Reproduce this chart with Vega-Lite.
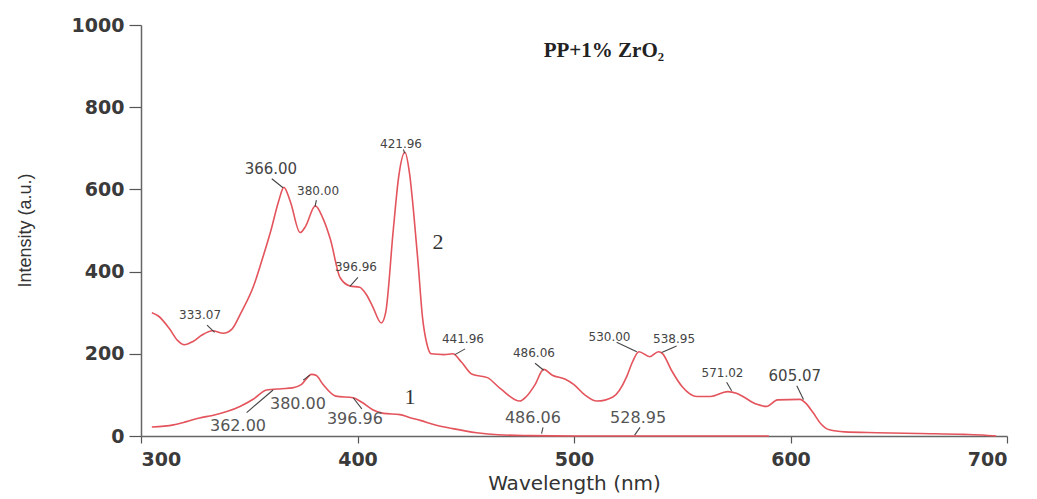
{
  "$schema": "https://vega.github.io/schema/vega-lite/v6.json",
  "width": 866,
  "height": 411,
  "autosize": "none",
  "padding": {"left": 141, "top": 25, "right": 30, "bottom": 63},
  "background": "white",
  "config": {"view": {"stroke": null}},
  "datasets": {
    "curves": [
      {"wl": 305, "intensity": 300, "curve": "2"},
      {"wl": 308, "intensity": 292, "curve": "2"},
      {"wl": 313, "intensity": 262, "curve": "2"},
      {"wl": 317, "intensity": 232, "curve": "2"},
      {"wl": 320, "intensity": 222, "curve": "2"},
      {"wl": 324, "intensity": 230, "curve": "2"},
      {"wl": 328, "intensity": 245, "curve": "2"},
      {"wl": 333, "intensity": 256, "curve": "2"},
      {"wl": 338, "intensity": 250, "curve": "2"},
      {"wl": 342, "intensity": 260, "curve": "2"},
      {"wl": 346, "intensity": 298, "curve": "2"},
      {"wl": 352, "intensity": 365, "curve": "2"},
      {"wl": 356, "intensity": 430, "curve": "2"},
      {"wl": 360, "intensity": 500, "curve": "2"},
      {"wl": 363.5, "intensity": 570, "curve": "2"},
      {"wl": 366, "intensity": 605, "curve": "2"},
      {"wl": 369, "intensity": 570, "curve": "2"},
      {"wl": 373.5, "intensity": 495, "curve": "2"},
      {"wl": 376, "intensity": 510, "curve": "2"},
      {"wl": 380.5, "intensity": 560, "curve": "2"},
      {"wl": 384, "intensity": 530, "curve": "2"},
      {"wl": 387.5, "intensity": 478, "curve": "2"},
      {"wl": 392, "intensity": 385, "curve": "2"},
      {"wl": 396.5, "intensity": 365, "curve": "2"},
      {"wl": 401, "intensity": 362, "curve": "2"},
      {"wl": 404, "intensity": 345, "curve": "2"},
      {"wl": 407, "intensity": 315, "curve": "2"},
      {"wl": 411, "intensity": 275, "curve": "2"},
      {"wl": 413, "intensity": 300, "curve": "2"},
      {"wl": 416.5, "intensity": 500, "curve": "2"},
      {"wl": 419, "intensity": 630, "curve": "2"},
      {"wl": 421.9, "intensity": 690, "curve": "2"},
      {"wl": 424, "intensity": 640, "curve": "2"},
      {"wl": 426, "intensity": 540, "curve": "2"},
      {"wl": 428, "intensity": 420, "curve": "2"},
      {"wl": 430, "intensity": 290, "curve": "2"},
      {"wl": 432, "intensity": 225, "curve": "2"},
      {"wl": 434, "intensity": 200, "curve": "2"},
      {"wl": 440, "intensity": 198, "curve": "2"},
      {"wl": 444, "intensity": 200, "curve": "2"},
      {"wl": 448, "intensity": 180, "curve": "2"},
      {"wl": 453, "intensity": 150, "curve": "2"},
      {"wl": 460, "intensity": 142, "curve": "2"},
      {"wl": 466, "intensity": 115, "curve": "2"},
      {"wl": 475, "intensity": 85, "curve": "2"},
      {"wl": 478, "intensity": 96, "curve": "2"},
      {"wl": 482, "intensity": 125, "curve": "2"},
      {"wl": 486, "intensity": 162, "curve": "2"},
      {"wl": 490, "intensity": 148, "curve": "2"},
      {"wl": 496, "intensity": 138, "curve": "2"},
      {"wl": 500, "intensity": 125, "curve": "2"},
      {"wl": 505, "intensity": 100, "curve": "2"},
      {"wl": 510.6, "intensity": 85, "curve": "2"},
      {"wl": 518, "intensity": 95, "curve": "2"},
      {"wl": 524.4, "intensity": 145, "curve": "2"},
      {"wl": 527, "intensity": 180, "curve": "2"},
      {"wl": 530, "intensity": 205, "curve": "2"},
      {"wl": 535, "intensity": 193, "curve": "2"},
      {"wl": 539, "intensity": 205, "curve": "2"},
      {"wl": 541, "intensity": 200, "curve": "2"},
      {"wl": 545, "intensity": 160, "curve": "2"},
      {"wl": 550, "intensity": 120, "curve": "2"},
      {"wl": 556.8, "intensity": 96, "curve": "2"},
      {"wl": 563, "intensity": 96, "curve": "2"},
      {"wl": 571, "intensity": 108, "curve": "2"},
      {"wl": 575, "intensity": 104, "curve": "2"},
      {"wl": 578, "intensity": 96, "curve": "2"},
      {"wl": 584.5, "intensity": 77, "curve": "2"},
      {"wl": 589, "intensity": 72, "curve": "2"},
      {"wl": 594, "intensity": 88, "curve": "2"},
      {"wl": 604.4, "intensity": 89, "curve": "2"},
      {"wl": 607, "intensity": 80, "curve": "2"},
      {"wl": 610.4, "intensity": 57, "curve": "2"},
      {"wl": 614, "intensity": 30, "curve": "2"},
      {"wl": 618, "intensity": 15, "curve": "2"},
      {"wl": 625, "intensity": 10, "curve": "2"},
      {"wl": 640, "intensity": 8, "curve": "2"},
      {"wl": 660, "intensity": 6, "curve": "2"},
      {"wl": 680, "intensity": 4, "curve": "2"},
      {"wl": 690, "intensity": 2, "curve": "2"},
      {"wl": 695, "intensity": 0, "curve": "2"},
      {"wl": 305, "intensity": 22, "curve": "1"},
      {"wl": 315, "intensity": 27, "curve": "1"},
      {"wl": 321, "intensity": 35, "curve": "1"},
      {"wl": 327, "intensity": 44, "curve": "1"},
      {"wl": 333, "intensity": 50, "curve": "1"},
      {"wl": 340, "intensity": 60, "curve": "1"},
      {"wl": 345.7, "intensity": 72, "curve": "1"},
      {"wl": 352, "intensity": 90, "curve": "1"},
      {"wl": 358, "intensity": 112, "curve": "1"},
      {"wl": 365, "intensity": 115, "curve": "1"},
      {"wl": 370, "intensity": 117, "curve": "1"},
      {"wl": 374, "intensity": 125, "curve": "1"},
      {"wl": 378.8, "intensity": 150, "curve": "1"},
      {"wl": 381, "intensity": 147, "curve": "1"},
      {"wl": 384, "intensity": 126, "curve": "1"},
      {"wl": 390, "intensity": 97, "curve": "1"},
      {"wl": 398, "intensity": 93, "curve": "1"},
      {"wl": 402, "intensity": 82, "curve": "1"},
      {"wl": 407, "intensity": 64, "curve": "1"},
      {"wl": 412, "intensity": 55, "curve": "1"},
      {"wl": 419.6, "intensity": 52, "curve": "1"},
      {"wl": 424, "intensity": 45, "curve": "1"},
      {"wl": 429, "intensity": 38, "curve": "1"},
      {"wl": 436, "intensity": 27, "curve": "1"},
      {"wl": 444, "intensity": 18, "curve": "1"},
      {"wl": 455, "intensity": 8, "curve": "1"},
      {"wl": 465, "intensity": 3, "curve": "1"},
      {"wl": 480, "intensity": 1, "curve": "1"},
      {"wl": 500, "intensity": 0, "curve": "1"},
      {"wl": 550, "intensity": 0, "curve": "1"},
      {"wl": 590, "intensity": 0, "curve": "1"}
    ],
    "labels": [
      {"label": "333.07", "wl": 327.3, "intensity": 294, "curve": "2"},
      {"label": "366.00", "wl": 360, "intensity": 649, "curve": "2"},
      {"label": "380.00", "wl": 381.8, "intensity": 595, "curve": "2"},
      {"label": "396.96", "wl": 399.3, "intensity": 410, "curve": "2"},
      {"label": "421.96", "wl": 420.1, "intensity": 710, "curve": "2"},
      {"label": "441.96", "wl": 448.7, "intensity": 235, "curve": "2"},
      {"label": "486.06", "wl": 481.5, "intensity": 201, "curve": "2"},
      {"label": "530.00", "wl": 516.4, "intensity": 240, "curve": "2"},
      {"label": "538.95", "wl": 546.2, "intensity": 235, "curve": "2"},
      {"label": "571.02", "wl": 568.6, "intensity": 153, "curve": "2"},
      {"label": "605.07", "wl": 602, "intensity": 145, "curve": "2"},
      {"label": "362.00", "wl": 344.8, "intensity": 24, "curve": "1"},
      {"label": "380.00", "wl": 372.5, "intensity": 77, "curve": "1"},
      {"label": "396.96", "wl": 398.8, "intensity": 41, "curve": "1"},
      {"label": "486.06", "wl": 481, "intensity": 45, "curve": "1"},
      {"label": "528.95", "wl": 529.6, "intensity": 45, "curve": "1"}
    ],
    "leaders": [
      {"wl": 330.5, "intensity": 270, "wl2": 334, "intensity2": 252},
      {"wl": 360.4, "intensity": 626, "wl2": 365.6, "intensity2": 604},
      {"wl": 381, "intensity": 574, "wl2": 380.4, "intensity2": 558},
      {"wl": 400.2, "intensity": 386, "wl2": 396.5, "intensity2": 364},
      {"wl": 421.2, "intensity": 697, "wl2": 421.8, "intensity2": 688},
      {"wl": 449.7, "intensity": 212, "wl2": 445, "intensity2": 198},
      {"wl": 482, "intensity": 177, "wl2": 486, "intensity2": 160},
      {"wl": 519.7, "intensity": 228, "wl2": 529, "intensity2": 205},
      {"wl": 547.4, "intensity": 219, "wl2": 540.5, "intensity2": 203},
      {"wl": 570.5, "intensity": 131, "wl2": 572.8, "intensity2": 110},
      {"wl": 602.9, "intensity": 122, "wl2": 606, "intensity2": 89},
      {"wl": 348.8, "intensity": 57, "wl2": 361, "intensity2": 112},
      {"wl": 374.9, "intensity": 136, "wl2": 378, "intensity2": 148},
      {"wl": 398, "intensity": 93, "wl2": 402, "intensity2": 66},
      {"wl": 485.7, "intensity": 21, "wl2": 485, "intensity2": 6},
      {"wl": 530.5, "intensity": 21, "wl2": 528, "intensity2": 2}
    ],
    "notes": [
      {"text": "1", "wl": 424.2, "intensity": 94},
      {"text": "2", "wl": 437.2, "intensity": 473}
    ],
    "title": [
      {"text": "PP+1% ZrO₂", "wl": 513.8, "intensity": 936}
    ]
  },
  "layer": [
    {
      "data": {"name": "curves"},
      "mark": {"type": "line", "color": "#e4545c", "strokeWidth": 1.6, "interpolate": "monotone"},
      "encoding": {
        "x": {
          "field": "wl", "type": "quantitative",
          "scale": {"domain": [300, 700], "nice": false},
          "axis": {
            "title": "Wavelength (nm)",
            "values": [300, 400, 500, 600, 700],
            "format": "d",
            "grid": false,
            "domainColor": "#666", "domainWidth": 1.5,
            "tickColor": "#555", "tickSize": 7, "tickWidth": 1.2,
            "labelFont": "DejaVu Sans", "labelFontSize": 19, "labelFontWeight": "bold", "labelColor": "#3a3a3a",
            "labelPadding": 7,
            "titleFont": "DejaVu Sans", "titleFontSize": 20, "titleFontWeight": "normal", "titleColor": "#333",
            "titlePadding": 4
          }
        },
        "y": {
          "field": "intensity", "type": "quantitative",
          "scale": {"domain": [0, 1000], "nice": false},
          "axis": {
            "title": "Intensity (a.u.)",
            "values": [0, 200, 400, 600, 800, 1000],
            "format": "d",
            "grid": false,
            "domainColor": "#666", "domainWidth": 1.5,
            "tickColor": "#555", "tickSize": 12, "tickWidth": 1.2,
            "labelFont": "DejaVu Sans", "labelFontSize": 19, "labelFontWeight": "bold", "labelColor": "#3a3a3a",
            "labelPadding": 5,
            "titleFont": "Liberation Sans", "titleFontSize": 18, "titleFontWeight": "normal", "titleColor": "#333",
            "titleX": -116, "titleY": 205, "titleAngle": -90, "titleAlign": "center", "titleBaseline": "middle"
          }
        },
        "detail": {"field": "curve", "type": "nominal"}
      }
    },
    {
      "data": {"name": "leaders"},
      "mark": {"type": "rule", "color": "#444", "strokeWidth": 1.1},
      "encoding": {
        "x": {"field": "wl", "type": "quantitative"},
        "y": {"field": "intensity", "type": "quantitative"},
        "x2": {"field": "wl2"},
        "y2": {"field": "intensity2"}
      }
    },
    {
      "data": {"name": "labels"},
      "transform": [{"filter": "datum.curve === '2'"}],
      "mark": {"type": "text", "font": "DejaVu Sans", "color": "#444", "align": "center", "baseline": "middle"},
      "encoding": {
        "x": {"field": "wl", "type": "quantitative"},
        "y": {"field": "intensity", "type": "quantitative"},
        "text": {"field": "label"},
        "size": {
          "condition": {"test": "datum.label === '366.00' || datum.label === '605.07'", "value": 15},
          "value": 12
        }
      }
    },
    {
      "data": {"name": "labels"},
      "transform": [{"filter": "datum.curve === '1'"}],
      "mark": {"type": "text", "font": "DejaVu Sans", "fontSize": 16, "color": "#555", "align": "center", "baseline": "middle"},
      "encoding": {
        "x": {"field": "wl", "type": "quantitative"},
        "y": {"field": "intensity", "type": "quantitative"},
        "text": {"field": "label"}
      }
    },
    {
      "data": {"name": "notes"},
      "mark": {"type": "text", "font": "Liberation Serif", "fontSize": 22, "color": "#333", "align": "center", "baseline": "middle"},
      "encoding": {
        "x": {"field": "wl", "type": "quantitative"},
        "y": {"field": "intensity", "type": "quantitative"},
        "text": {"field": "text"}
      }
    },
    {
      "data": {"name": "title"},
      "mark": {"type": "text", "font": "Liberation Serif", "fontSize": 21, "fontWeight": "bold", "color": "#222", "align": "center", "baseline": "middle"},
      "encoding": {
        "x": {"field": "wl", "type": "quantitative"},
        "y": {"field": "intensity", "type": "quantitative"},
        "text": {"field": "text"}
      }
    }
  ]
}
